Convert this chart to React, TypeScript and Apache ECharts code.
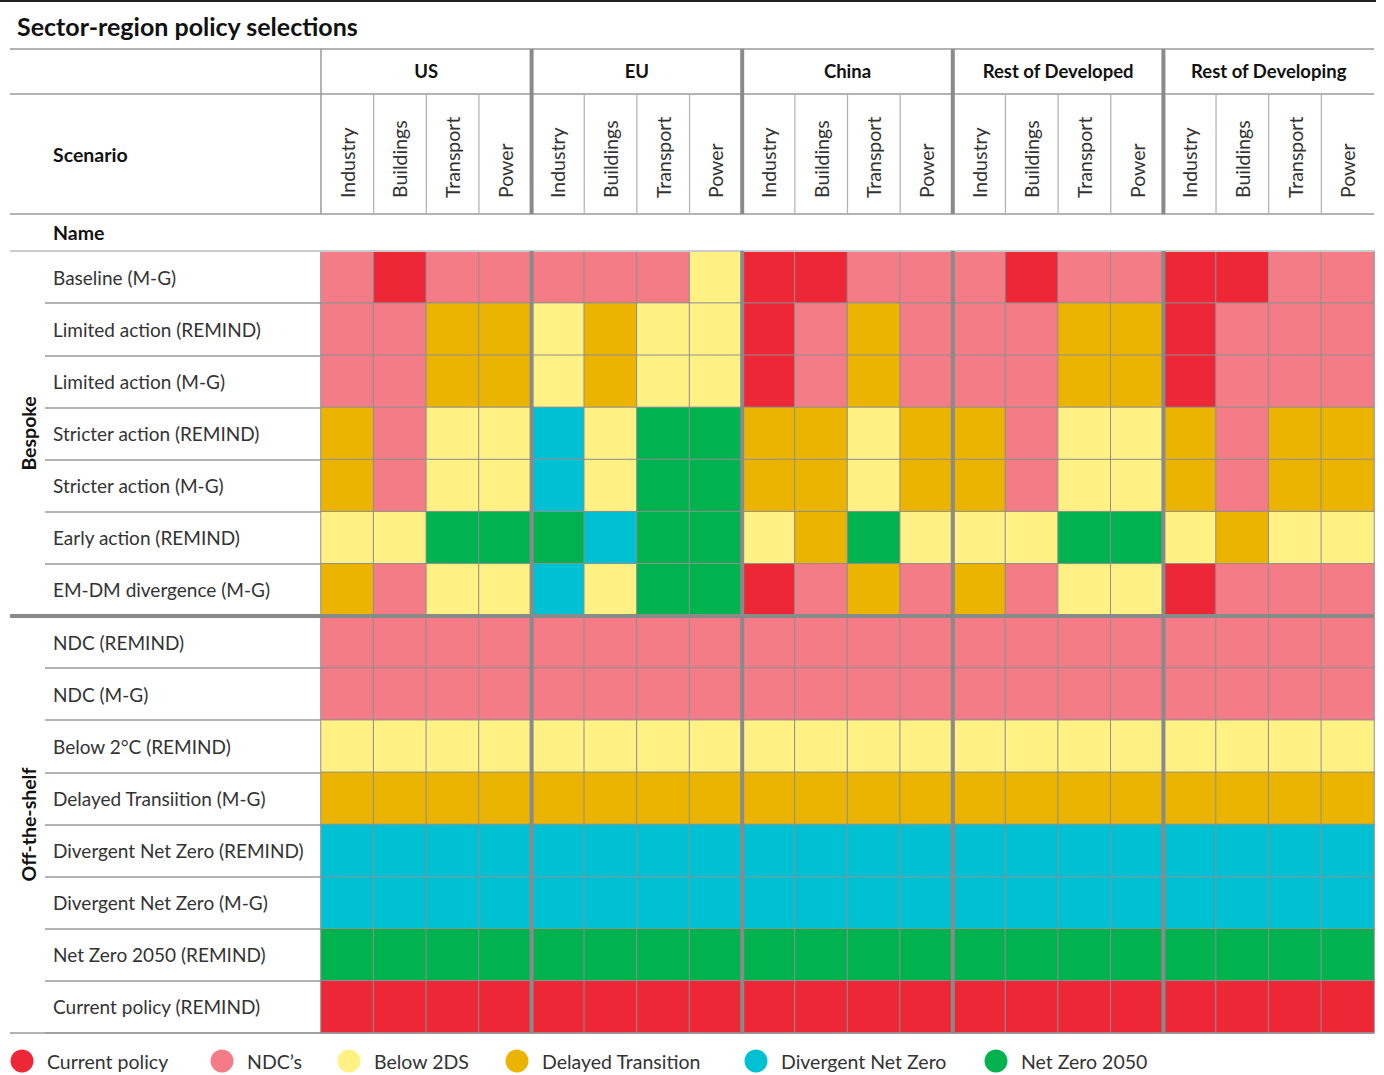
import React, { useEffect, useRef } from 'react';
import * as echarts from 'echarts';

const titleText = 'Sector-region policy selections';
const regions = ['US', 'EU', 'China', 'Rest of Developed', 'Rest of Developing'];
const sectors = ['Industry', 'Buildings', 'Transport', 'Power'];
const policyNames = ['Current policy', "NDC\u2019s", 'Below 2DS', 'Delayed Transition', 'Divergent Net Zero', 'Net Zero 2050'];
const policyColors = ['#EE2737', '#F47C87', '#FFF183', '#EBB400', '#00C1D4', '#00B34F'];
const groups = ['Bespoke', 'Off-the-shelf'];
const groupSizes = [7, 8];

const scenarios = [
  'Baseline (M-G)',
  'Limited action (REMIND)',
  'Limited action (M-G)',
  'Stricter action (REMIND)',
  'Stricter action (M-G)',
  'Early action (REMIND)',
  'EM-DM divergence (M-G)',
  'NDC (REMIND)',
  'NDC (M-G)',
  'Below 2\u00b0C (REMIND)',
  'Delayed Transiition (M-G)',
  'Divergent Net Zero (REMIND)',
  'Divergent Net Zero (M-G)',
  'Net Zero 2050 (REMIND)',
  'Current policy (REMIND)',
];

// policy index per column: US(I,B,T,P), EU, China, Rest of Developed, Rest of Developing
const baselineMG = [1, 0, 1, 1, 1, 1, 1, 2, 0, 0, 1, 1, 1, 0, 1, 1, 0, 0, 1, 1];
const limitedREMIND = [1, 1, 3, 3, 2, 3, 2, 2, 0, 1, 3, 1, 1, 1, 3, 3, 0, 1, 1, 1];
const limitedMG = [1, 1, 3, 3, 2, 3, 2, 2, 0, 1, 3, 1, 1, 1, 3, 3, 0, 1, 1, 1];
const stricterREMIND = [3, 1, 2, 2, 4, 2, 5, 5, 3, 3, 2, 3, 3, 1, 2, 2, 3, 1, 3, 3];
const stricterMG = [3, 1, 2, 2, 4, 2, 5, 5, 3, 3, 2, 3, 3, 1, 2, 2, 3, 1, 3, 3];
const earlyREMIND = [2, 2, 5, 5, 5, 4, 5, 5, 2, 3, 5, 2, 2, 2, 5, 5, 2, 3, 2, 2];
const emdmMG = [3, 1, 2, 2, 4, 2, 5, 5, 0, 1, 3, 1, 3, 1, 2, 2, 0, 1, 1, 1];
const ndcREMIND = [1, 1, 1, 1, 1, 1, 1, 1, 1, 1, 1, 1, 1, 1, 1, 1, 1, 1, 1, 1];
const ndcMG = [1, 1, 1, 1, 1, 1, 1, 1, 1, 1, 1, 1, 1, 1, 1, 1, 1, 1, 1, 1];
const below2REMIND = [2, 2, 2, 2, 2, 2, 2, 2, 2, 2, 2, 2, 2, 2, 2, 2, 2, 2, 2, 2];
const delayedMG = [3, 3, 3, 3, 3, 3, 3, 3, 3, 3, 3, 3, 3, 3, 3, 3, 3, 3, 3, 3];
const divergentREMIND = [4, 4, 4, 4, 4, 4, 4, 4, 4, 4, 4, 4, 4, 4, 4, 4, 4, 4, 4, 4];
const divergentMG = [4, 4, 4, 4, 4, 4, 4, 4, 4, 4, 4, 4, 4, 4, 4, 4, 4, 4, 4, 4];
const nz2050REMIND = [5, 5, 5, 5, 5, 5, 5, 5, 5, 5, 5, 5, 5, 5, 5, 5, 5, 5, 5, 5];
const currentREMIND = [0, 0, 0, 0, 0, 0, 0, 0, 0, 0, 0, 0, 0, 0, 0, 0, 0, 0, 0, 0];

const rows = [
  baselineMG, limitedREMIND, limitedMG, stricterREMIND, stricterMG, earlyREMIND, emdmMG,
  ndcREMIND, ndcMG, below2REMIND, delayedMG, divergentREMIND, divergentMG, nz2050REMIND, currentREMIND,
];

// legend layout (circle centre x positions)
const legendX = [22, 222, 349, 517, 756, 996];

const FONT = 'Lato, "Open Sans", sans-serif';

export default function App() {
  const ref = useRef<HTMLDivElement>(null);
  useEffect(() => {
    document.body.style.margin = '0';
    const chart = echarts.init(ref.current!, null, { renderer: 'svg' });
    const columns: string[] = [];
    regions.forEach((r) => sectors.forEach((s) => columns.push(s)));
    const data: number[][] = [];
    rows.forEach((vals, yi) => vals.forEach((v, xi) => data.push([xi, yi, v])));

    const gridLeft = 321;
    const gridTop = 251;
    const gridRight = 1374;
    const gridBottom = 1033;

    chart.setOption({
      animation: false,
      textStyle: { fontFamily: FONT },
      grid: { left: gridLeft, top: gridTop, width: gridRight - gridLeft, height: gridBottom - gridTop },
      xAxis: [
        {
          type: 'category',
          data: columns,
          position: 'top',
          axisLine: { show: false },
          axisTick: { show: false },
          splitLine: { show: false },
          axisLabel: { show: false },
        },
        {
          type: 'category',
          data: regions,
          position: 'top',
          axisLine: { show: false },
          axisTick: { show: false },
          axisLabel: {
            margin: 180,
            verticalAlign: 'middle',
            fontSize: 18.5,
            fontWeight: 'bold',
            color: '#111',
            fontFamily: FONT,
            interval: 0,
          },
        },
      ],
      yAxis: {
        type: 'category',
        data: scenarios,
        inverse: true,
        axisLine: { show: false },
        axisTick: { show: true, length: gridLeft - 45, lineStyle: { color: '#9a9a9a', width: 1.5 } },
        axisLabel: { align: 'left', margin: gridLeft - 53, fontSize: 19, color: '#333', fontFamily: FONT, interval: 0 },
      },
      visualMap: {
        type: 'piecewise',
        show: false,
        dimension: 2,
        seriesIndex: 0,
        pieces: policyNames.map((n, i) => ({ value: i, label: n, color: policyColors[i] })),
      },
      series: [
        {
          type: 'heatmap',
          data,
          itemStyle: { borderColor: '#8f8f8f', borderWidth: 1 },
          emphasis: { disabled: true },
        },
      ],
    });

    const px = (i: number) => chart.convertToPixel({ xAxisIndex: 0 }, i) as number;
    const py = (i: number) => chart.convertToPixel({ yAxisIndex: 0 }, i) as number;
    const cw = px(1) - px(0);
    const ch = py(1) - py(0);
    const colEdge = (i: number) => px(0) - cw / 2 + i * cw;
    const rowEdge = (i: number) => py(0) - ch / 2 + i * ch;

    const headTop = 49;
    const headMid = 94;
    const headBot = 214;
    const lineGray = '#9a9a9a';
    const thickGray = '#8a8a8a';
    const g: any[] = [];
    const hline = (y: number, x1: number, x2: number, stroke: string, w: number) =>
      g.push({ type: 'line', z: 100, shape: { x1, y1: y, x2, y2: y }, style: { stroke, lineWidth: w } });
    const vline = (x: number, y1: number, y2: number, stroke: string, w: number) =>
      g.push({ type: 'line', z: 100, shape: { x1: x, y1, x2: x, y2 }, style: { stroke, lineWidth: w } });

    hline(1, 0, 1376, '#222', 2);
    g.push({
      type: 'text', z: 100, x: 17, y: 26,
      style: { text: titleText, fontSize: 25, fontWeight: 'bold', fill: '#111', fontFamily: FONT, verticalAlign: 'middle' },
    });
    hline(headTop, 10, gridRight, lineGray, 1.5);
    hline(headMid, 10, gridRight, lineGray, 1.5);
    hline(headBot, 10, gridRight, lineGray, 1.5);
    hline(gridTop, 10, gridRight, '#cccccc', 2);
    hline(gridBottom, 10, gridRight, lineGray, 1.5);
    vline(gridLeft, headTop, headBot, lineGray, 1.5);
    const nCols = columns.length;
    for (let i = 1; i < nCols; i++) {
      const x = colEdge(i);
      if (i % sectors.length === 0) {
        vline(x, headTop, headBot, thickGray, 4);
        vline(x, gridTop, gridBottom, thickGray, 4);
      } else {
        vline(x, headMid, headBot, '#b0b0b0', 1.2);
      }
    }
    // sector labels (rotated, reading bottom to top)
    columns.forEach((name, i) => {
      g.push({
        type: 'text', z: 100, x: px(i), y: 198, rotation: Math.PI / 2,
        style: { text: name, fontSize: 19.5, fill: '#333', fontFamily: FONT, align: 'left', verticalAlign: 'middle' },
      });
    });
    // group separator + labels
    let start = 0;
    groups.forEach((name, gi) => {
      const end = start + groupSizes[gi];
      const y0 = rowEdge(start);
      const y1 = rowEdge(end);
      if (gi > 0) hline(y0, 10, gridRight, thickGray, 4);
      g.push({
        type: 'text', z: 100, x: 28, y: (y0 + y1) / 2, rotation: Math.PI / 2,
        style: { text: name, fontSize: 19.5, fontWeight: 'bold', fill: '#111', fontFamily: FONT, align: 'center', verticalAlign: 'middle' },
      });
      start = end;
    });
    g.push({
      type: 'text', z: 100, x: 53, y: (headMid + headBot) / 2,
      style: { text: 'Scenario', fontSize: 19.5, fontWeight: 'bold', fill: '#111', fontFamily: FONT, verticalAlign: 'middle' },
    });
    g.push({
      type: 'text', z: 100, x: 53, y: (headBot + gridTop) / 2,
      style: { text: 'Name', fontSize: 19.5, fontWeight: 'bold', fill: '#111', fontFamily: FONT, verticalAlign: 'middle' },
    });
    // legend
    policyNames.forEach((name, i) => {
      g.push({ type: 'circle', z: 100, shape: { cx: legendX[i], cy: 1061, r: 11.5 }, style: { fill: policyColors[i] } });
      g.push({
        type: 'text', z: 100, x: legendX[i] + 25, y: 1061,
        style: { text: name, fontSize: 19.5, fill: '#333', fontFamily: FONT, verticalAlign: 'middle' },
      });
    });
    chart.setOption({ graphic: g });

    return () => chart.dispose();
  }, []);
  return <div ref={ref} style={{ position: 'absolute', left: 0, top: 0, width: 1384, height: 1075 }} />;
}
